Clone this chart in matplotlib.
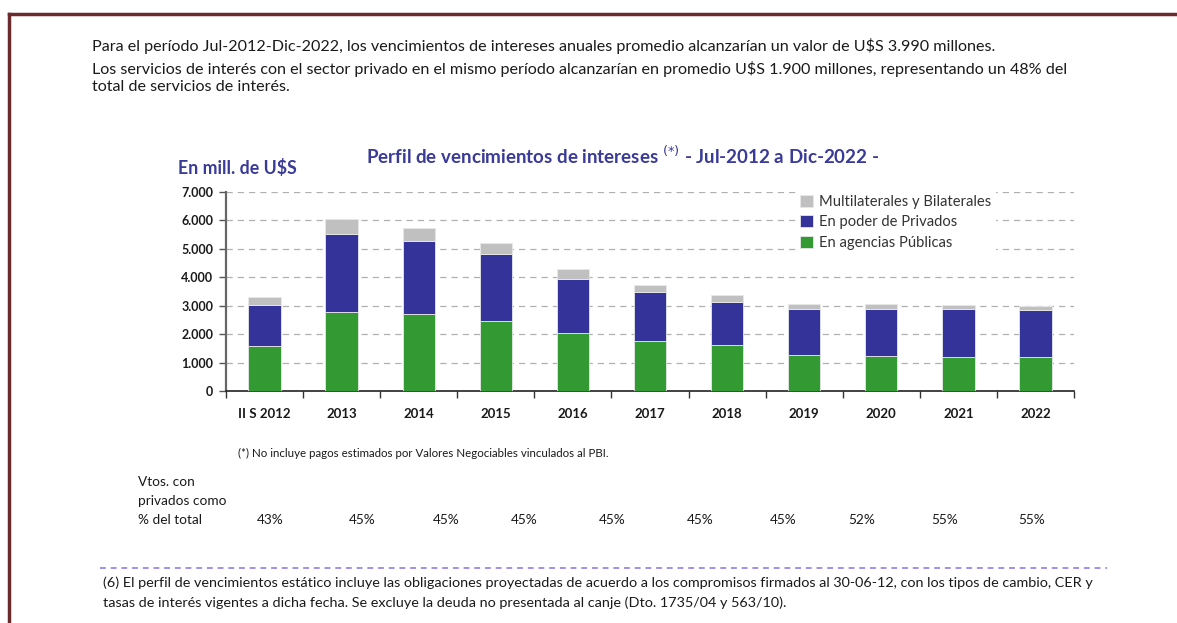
import numpy as np
import matplotlib.pyplot as plt
from matplotlib.lines import Line2D

plt.rcParams['font.family'] = ['Lato', 'DejaVu Sans']

categorias = ['II S 2012', '2013', '2014', '2015', '2016', '2017',
              '2018', '2019', '2020', '2021', '2022']
publicas = [1590, 2785, 2715, 2470, 2045, 1765, 1620, 1270, 1235, 1200, 1200]
privados = [1440, 2750, 2575, 2360, 1905, 1725, 1515, 1620, 1655, 1690, 1655]
multilat = [280, 525, 455, 385, 350, 245, 245, 175, 175, 140, 140]
pct_priv = ['43%', '45%', '45%', '45%', '45%', '45%', '45%', '52%', '55%', '55%']
pct_x = [270, 362, 446, 524, 612, 700, 783, 862, 945, 1032]

c_verde = '#339933'
c_azul = '#333399'
c_gris = '#c0c0c0'
c_titulo = '#3a3a99'
c_borde = '#6b2a2e'
W, H = 1177, 623

fig = plt.figure(figsize=(11.77, 6.23), dpi=100)

def fx(px):
    return px / W

def fy(py):
    return 1 - py / H

# marco
fig.add_artist(Line2D([fx(8.5), 1], [fy(14), fy(14)], color=c_borde, lw=2.5))
fig.add_artist(Line2D([fx(8.5), fx(8.5)], [fy(14), 0], color=c_borde, lw=2.5))

# texto superior
txt = dict(fontsize=11.6, color='#1a1a1a', va='center', ha='left')
fig.text(fx(92), fy(46), 'Para el período Jul-2012-Dic-2022, los vencimientos de intereses anuales promedio '
         'alcanzarían un valor de U$S 3.990 millones.', **txt)
fig.text(fx(92), fy(69), 'Los servicios de interés con el sector privado en el mismo período alcanzarían en '
         'promedio U$S 1.900 millones, representando un 48% del', **txt)
fig.text(fx(92), fy(87), 'total de servicios de interés.', **txt)

ax = fig.add_axes([fx(226), fy(391), fx(1074) - fx(226), fy(192) - fy(391)])
x = np.arange(len(categorias))
bw = 0.42
b_pub = np.array(publicas)
b_priv = b_pub + np.array(privados)
ax.bar(x, publicas, bw, color=c_verde, edgecolor='#e8e8e8', lw=0.6, zorder=3,
       label='En agencias Públicas')
ax.bar(x, privados, bw, bottom=b_pub, color=c_azul, edgecolor='#e8e8e8', lw=0.6, zorder=3,
       label='En poder de Privados')
ax.bar(x, multilat, bw, bottom=b_priv, color=c_gris, edgecolor='#e8e8e8', lw=0.6, zorder=3,
       label='Multilaterales y Bilaterales')

ax.set_xlim(-0.5, len(categorias) - 0.5)
ax.set_ylim(0, 7000)
ax.set_yticks(np.arange(0, 7001, 1000))
ax.set_yticklabels(['0', '1.000', '2.000', '3.000', '4.000', '5.000', '6.000', '7.000'],
                   fontsize=9, fontweight='bold', color='#1a1a1a')
ax.set_xticks(x)
ax.set_xticklabels(categorias, fontsize=9.5, fontweight='bold', color='#1a1a1a')
ax.set_xticks(np.arange(-0.5, len(categorias)), minor=True)
ax.tick_params(axis='x', which='major', length=0, pad=12)
ax.tick_params(axis='x', which='minor', length=5, width=1, color='#333333', direction='out')
ax.tick_params(axis='y', length=5, width=1, color='#555555', pad=4)
ax.grid(axis='y', color='#b0b0b0', ls=(0, (5, 4)), lw=0.9, zorder=0)
for s in ['top', 'right']:
    ax.spines[s].set_visible(False)
ax.spines['left'].set_color('#666666')
ax.spines['left'].set_linewidth(1.6)
ax.spines['bottom'].set_color('#222222')
ax.spines['bottom'].set_linewidth(1.2)

h, l = ax.get_legend_handles_labels()
leg = ax.legend(h[::-1], l[::-1], loc='upper left', bbox_to_anchor=(0.663, 1.045), frameon=True,
                fontsize=10.6, handlelength=0.9, handleheight=0.9, handletextpad=0.4,
                labelspacing=0.42, borderpad=0.3, labelcolor='#333333')
leg.get_frame().set_facecolor('white')
leg.get_frame().set_edgecolor('none')
leg.get_frame().set_alpha(1)
leg.set_zorder(5)

fig.text(fx(623), fy(156), 'Perfil de vencimientos de intereses $^{(*)}$ - Jul-2012 a Dic-2022 -',
         fontsize=13.5, fontweight='bold', color=c_titulo, ha='center', va='center')
fig.text(fx(178), fy(168), 'En mill. de U$S', fontsize=12.8, fontweight='bold',
         color=c_titulo, ha='left', va='center')

fig.text(fx(238), fy(453), '(*) No incluye pagos estimados por Valores Negociables vinculados al PBI.',
         fontsize=8.3, color='#1a1a1a', ha='left', va='center')

low = dict(fontsize=9.8, color='#1a1a1a', va='center')
fig.text(fx(138), fy(482), 'Vtos. con', ha='left', **low)
fig.text(fx(138), fy(501), 'privados como', ha='left', **low)
fig.text(fx(138), fy(520), '% del total', ha='left', **low)
for px, p in zip(pct_x, pct_priv):
    fig.text(fx(px), fy(520), p, ha='center', **low)

fig.add_artist(Line2D([fx(100), fx(1107)], [fy(568), fy(568)], color='#a08ff0',
                      lw=1.4, ls=(0, (3, 2.5))))
nota = dict(fontsize=10.4, color='#1a1a1a', ha='left', va='center')
fig.text(fx(103), fy(583), '(6) El perfil de vencimientos estático incluye las obligaciones proyectadas de '
         'acuerdo a los compromisos firmados al 30-06-12, con los tipos de cambio, CER y', **nota)
fig.text(fx(103), fy(603), 'tasas de interés vigentes a dicha fecha. Se excluye la deuda no presentada '
         'al canje (Dto. 1735/04 y 563/10).', **nota)

fig.savefig('out.png', dpi=100)
